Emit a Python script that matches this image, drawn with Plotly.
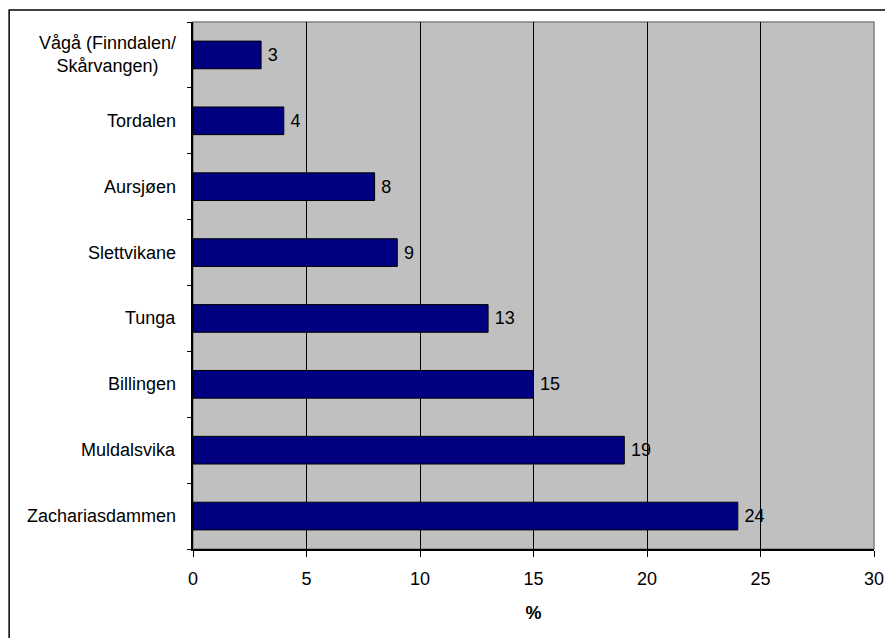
import plotly.graph_objects as go

categories = ["Zachariasdammen", "Muldalsvika", "Billingen", "Tunga",
              "Slettvikane", "Aursjøen", "Tordalen", "Vågå (Finndalen/<br>Skårvangen)"]
values = [24, 19, 15, 13, 9, 8, 4, 3]
x_ticks = [0, 5, 10, 15, 20, 25, 30]

FONT = "Liberation Sans, Arial, sans-serif"
FS = 18

fig = go.Figure()
fig.add_trace(go.Bar(
    y=categories, x=values, orientation="h",
    marker=dict(color="#000080", line=dict(color="#000000", width=1)),
    texttemplate="\u2009%{x}", textposition="outside",
    textfont=dict(family=FONT, size=FS, color="black"),
    cliponaxis=False,
))

annotations = []
for c in categories:
    annotations.append(dict(
        x=0, xref="paper", y=c, yref="y", text=c, showarrow=False,
        xanchor="right", xshift=-15, align="center",
        font=dict(family=FONT, size=FS, color="black")))

fig.update_layout(
    width=885, height=638,
    margin=dict(l=193, r=11, t=22, b=89, autoexpand=False),
    paper_bgcolor="white", plot_bgcolor="#C0C0C0",
    bargap=0.58, showlegend=False,
    font=dict(family=FONT, size=FS, color="black"),
    annotations=annotations,
    shapes=[
        dict(type="rect", xref="paper", yref="paper", x0=0, x1=1, y0=0, y1=1,
             line=dict(color="#808080", width=1.5), layer="below"),
        dict(type="rect", xref="paper", yref="paper", x0=-0.270, x1=1.1,
             y0=-0.3, y1=1.0228, line=dict(color="black", width=1.5)),
    ],
)
fig.update_xaxes(
    range=[0, 30], tickvals=x_ticks, ticktext=[str(t) for t in x_ticks],
    showgrid=True, gridcolor="black", gridwidth=1, zeroline=False,
    showline=True, linecolor="black", linewidth=1.5,
    ticks="outside", ticklen=6, tickcolor="black", tickwidth=1,
    ticklabelstandoff=7, automargin=False, ticklabeloverflow="allow",
    tickfont=dict(family=FONT, size=FS, color="black"),
    title=dict(text="<b>%</b>", font=dict(family=FONT, size=FS, color="black"), standoff=18),
)
fig.update_yaxes(
    categoryorder="array", categoryarray=categories,
    showticklabels=False, showgrid=False, zeroline=False,
    showline=True, linecolor="black", linewidth=1.5,
    ticks="outside", ticklen=4, tickcolor="black", tickson="boundaries",
)

fig.write_html("out.html", config={"displayModeBar": False},
               post_script="document.body.style.margin='0';document.body.style.overflow='hidden';")
